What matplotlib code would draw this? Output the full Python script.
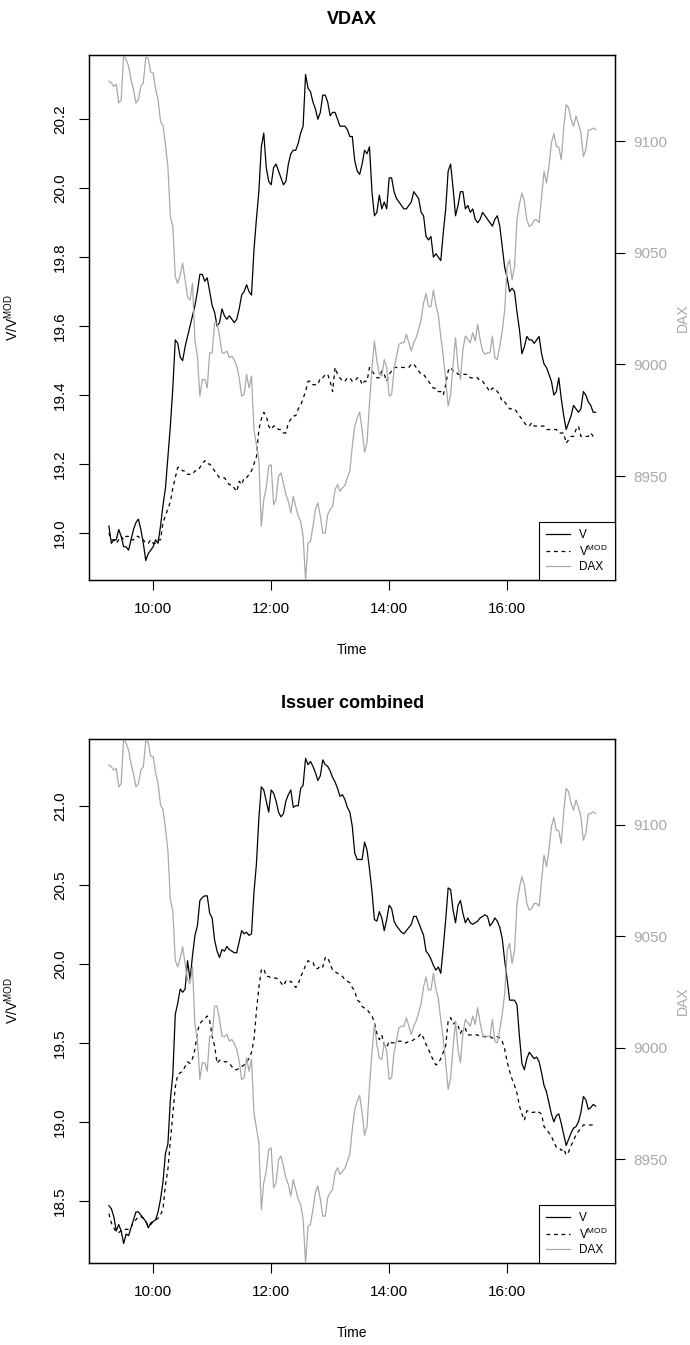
import pandas as pd
import matplotlib.pyplot as plt
import matplotlib.dates as mdates
from matplotlib.lines import Line2D

plt.rcParams['font.family'] = ['Liberation Sans', 'DejaVu Sans']
plt.rcParams['mathtext.fontset'] = 'custom'
plt.rcParams['mathtext.rm'] = 'Liberation Sans'
plt.rcParams['mathtext.it'] = 'Liberation Sans:italic'
plt.rcParams['mathtext.bf'] = 'Liberation Sans:bold'

# ============================================
# DATA
# *_on   : values at 09:15, 09:20, ... 17:30
# *_half : values half way between, 09:17:30 ... 17:27:30
# ============================================
times = pd.date_range("2014-03-03 09:15", "2014-03-03 17:30", freq="150s")

vdax_v_on = [19.02, 18.98, 19.01, 18.96, 18.95, 19.01, 19.04, 18.97, 18.94, 18.96,
             18.97, 19.08, 19.22, 19.42, 19.55, 19.50, 19.57, 19.63, 19.70, 19.75,
             19.74, 19.66, 19.60, 19.65, 19.62, 19.62, 19.62, 19.69, 19.72, 19.69,
             19.91, 20.12, 20.06, 20.01, 20.07, 20.03, 20.02, 20.10, 20.11, 20.16,
             20.33, 20.28, 20.23, 20.22, 20.27, 20.21, 20.22, 20.18, 20.18, 20.15,
             20.08, 20.04, 20.11, 20.12, 19.92, 19.98, 19.96, 20.03, 19.99, 19.96,
             19.94, 19.95, 19.99, 19.97, 19.92, 19.85, 19.80, 19.80, 19.87, 20.05,
             20.00, 19.95, 19.99, 19.95, 19.94, 19.90, 19.93, 19.91, 19.89, 19.92,
             19.83, 19.74, 19.71, 19.64, 19.52, 19.57, 19.56, 19.56, 19.52, 19.48,
             19.44, 19.41, 19.39, 19.30, 19.34, 19.36, 19.36, 19.40, 19.37, 19.35]
vdax_v_half = [18.97, 18.98, 18.99, 18.96, 18.98, 19.03, 19.01, 18.92, 18.95, 18.98,
               19.02, 19.13, 19.31, 19.56, 19.51, 19.54, 19.60, 19.66, 19.75, 19.73,
               19.70, 19.64, 19.61, 19.63, 19.63, 19.61, 19.65, 19.70, 19.70, 19.82,
               19.99, 20.16, 20.02, 20.06, 20.05, 20.01, 20.07, 20.11, 20.13, 20.18,
               20.29, 20.25, 20.20, 20.27, 20.25, 20.22, 20.20, 20.18, 20.17, 20.15,
               20.05, 20.07, 20.10, 19.99, 19.93, 19.94, 19.94, 20.03, 19.97, 19.95,
               19.94, 19.96, 19.98, 19.93, 19.86, 19.86, 19.81, 19.79, 19.94, 20.07,
               19.92, 19.99, 19.94, 19.93, 19.91, 19.91, 19.92, 19.90, 19.91, 19.89,
               19.77, 19.70, 19.70, 19.59, 19.54, 19.56, 19.55, 19.57, 19.49, 19.46,
               19.40, 19.45, 19.34, 19.32, 19.37, 19.35, 19.41, 19.38, 19.35]

vdax_vmod_on = [19.00, 18.98, 18.98, 18.98, 18.99, 18.98, 18.99, 18.98, 18.97, 18.97,
                18.98, 19.03, 19.07, 19.13, 19.19, 19.18, 19.17, 19.17, 19.18, 19.20,
                19.20, 19.19, 19.17, 19.16, 19.15, 19.14, 19.12, 19.14, 19.16, 19.18,
                19.22, 19.33, 19.34, 19.30, 19.31, 19.30, 19.29, 19.33, 19.34, 19.37,
                19.41, 19.44, 19.43, 19.45, 19.46, 19.44, 19.48, 19.45, 19.44, 19.45,
                19.44, 19.45, 19.44, 19.48, 19.46, 19.45, 19.46, 19.46, 19.48, 19.48,
                19.48, 19.48, 19.49, 19.47, 19.46, 19.44, 19.42, 19.41, 19.40, 19.47,
                19.47, 19.46, 19.46, 19.46, 19.45, 19.45, 19.44, 19.42, 19.42, 19.41,
                19.38, 19.37, 19.36, 19.35, 19.33, 19.31, 19.32, 19.31, 19.31, 19.30,
                19.30, 19.30, 19.29, 19.26, 19.28, 19.30, 19.28, 19.28, 19.29, 19.28]
vdax_vmod_half = [18.98, 18.97, 18.99, 18.99, 18.98, 18.99, 18.98, 18.97, 18.98, 18.97,
                  18.98, 19.05, 19.09, 19.16, 19.19, 19.18, 19.17, 19.18, 19.19, 19.21,
                  19.20, 19.18, 19.16, 19.16, 19.14, 19.13, 19.15, 19.16, 19.17, 19.20,
                  19.30, 19.35, 19.31, 19.31, 19.30, 19.29, 19.32, 19.34, 19.36, 19.39,
                  19.44, 19.43, 19.43, 19.45, 19.46, 19.41, 19.46, 19.44, 19.45, 19.44,
                  19.45, 19.43, 19.44, 19.47, 19.45, 19.47, 19.44, 19.47, 19.48, 19.48,
                  19.48, 19.49, 19.48, 19.46, 19.45, 19.43, 19.42, 19.41, 19.43, 19.48,
                  19.47, 19.46, 19.46, 19.45, 19.45, 19.44, 19.43, 19.41, 19.42, 19.40,
                  19.38, 19.36, 19.36, 19.34, 19.32, 19.31, 19.31, 19.31, 19.31, 19.30,
                  19.30, 19.29, 19.29, 19.27, 19.28, 19.31, 19.28, 19.28, 19.28]

issuer_v_on = [18.47, 18.40, 18.35, 18.23, 18.28, 18.38, 18.43, 18.39, 18.33, 18.37,
               18.43, 18.62, 18.86, 19.30, 19.75, 19.82, 20.02, 20.05, 20.24, 20.42,
               20.43, 20.29, 20.08, 20.09, 20.11, 20.08, 20.07, 20.21, 20.20, 20.19,
               20.63, 21.12, 21.03, 21.10, 21.03, 20.93, 21.03, 21.10, 21.00, 21.11,
               21.30, 21.28, 21.21, 21.19, 21.26, 21.22, 21.15, 21.06, 21.04, 20.96,
               20.70, 20.66, 20.77, 20.60, 20.28, 20.33, 20.21, 20.37, 20.27, 20.22,
               20.19, 20.23, 20.30, 20.26, 20.18, 20.06, 19.99, 19.98, 20.10, 20.48,
               20.34, 20.37, 20.32, 20.29, 20.25, 20.27, 20.30, 20.30, 20.26, 20.27,
               20.16, 19.90, 19.77, 19.74, 19.37, 19.40, 19.42, 19.41, 19.31, 19.19,
               19.05, 19.04, 18.99, 18.85, 18.93, 18.97, 19.06, 19.14, 19.09, 19.10]
issuer_v_half = [18.45, 18.31, 18.31, 18.29, 18.33, 18.43, 18.41, 18.37, 18.36, 18.38,
                 18.51, 18.80, 19.14, 19.68, 19.84, 19.84, 19.90, 20.18, 20.40, 20.43,
                 20.32, 20.15, 20.04, 20.08, 20.09, 20.07, 20.14, 20.19, 20.18, 20.45,
                 20.92, 21.10, 20.96, 21.08, 20.96, 20.95, 21.07, 20.99, 21.00, 21.13,
                 21.26, 21.25, 21.16, 21.29, 21.25, 21.18, 21.11, 21.07, 20.99, 20.87,
                 20.66, 20.66, 20.72, 20.46, 20.27, 20.29, 20.28, 20.35, 20.24, 20.20,
                 20.21, 20.25, 20.30, 20.22, 20.08, 20.03, 19.96, 19.94, 20.28, 20.47,
                 20.26, 20.40, 20.26, 20.26, 20.26, 20.29, 20.31, 20.24, 20.29, 20.23,
                 20.02, 19.77, 19.77, 19.54, 19.33, 19.44, 19.40, 19.38, 19.23, 19.12,
                 19.00, 19.05, 18.92, 18.89, 18.96, 19.00, 19.16, 19.08, 19.11]

issuer_vmod_on = [18.42, 18.33, 18.30, 18.32, 18.32, 18.37, 18.40, 18.39, 18.34, 18.37,
                  18.39, 18.45, 18.70, 19.05, 19.30, 19.32, 19.38, 19.40, 19.57, 19.64,
                  19.67, 19.54, 19.37, 19.39, 19.38, 19.35, 19.33, 19.35, 19.38, 19.44,
                  19.70, 19.96, 19.92, 19.91, 19.91, 19.88, 19.89, 19.89, 19.85, 19.92,
                  19.99, 20.01, 19.97, 19.99, 20.04, 20.00, 19.95, 19.93, 19.90, 19.88,
                  19.83, 19.76, 19.72, 19.69, 19.63, 19.52, 19.49, 19.51, 19.50, 19.51,
                  19.50, 19.51, 19.52, 19.54, 19.53, 19.46, 19.39, 19.37, 19.44, 19.64,
                  19.62, 19.61, 19.59, 19.55, 19.55, 19.55, 19.54, 19.54, 19.53, 19.54,
                  19.51, 19.38, 19.27, 19.18, 19.05, 19.07, 19.06, 19.07, 19.05, 18.95,
                  18.91, 18.84, 18.82, 18.79, 18.85, 18.92, 18.96, 18.98, 18.98, 18.98]
issuer_vmod_half = [18.36, 18.30, 18.31, 18.32, 18.33, 18.38, 18.40, 18.37, 18.35, 18.38,
                    18.41, 18.60, 18.88, 19.22, 19.31, 19.35, 19.37, 19.46, 19.62, 19.65,
                    19.64, 19.48, 19.39, 19.38, 19.37, 19.33, 19.34, 19.36, 19.40, 19.52,
                    19.85, 19.97, 19.92, 19.91, 19.90, 19.86, 19.88, 19.87, 19.87, 19.95,
                    20.02, 20.01, 19.97, 19.98, 20.04, 19.96, 19.94, 19.92, 19.89, 19.85,
                    19.77, 19.73, 19.71, 19.67, 19.56, 19.55, 19.47, 19.50, 19.51, 19.51,
                    19.50, 19.51, 19.53, 19.56, 19.49, 19.42, 19.36, 19.40, 19.48, 19.66,
                    19.63, 19.56, 19.59, 19.55, 19.55, 19.54, 19.54, 19.54, 19.53, 19.53,
                    19.46, 19.32, 19.23, 19.10, 19.01, 19.07, 19.06, 19.06, 18.97, 18.93,
                    18.87, 18.84, 18.83, 18.81, 18.88, 18.94, 18.98, 18.98, 18.98]

dax_on = [9126.8, 9124.5, 9117.0, 9138.5, 9133.5, 9123.0, 9118.5, 9126.0, 9137.0, 9130.5,
          9118.5, 9106.9, 9088.6, 9061.7, 9036.3, 9045.3, 9030.3, 9036.3, 9003.7, 8993.3,
          8989.5, 9005.2, 9018.7, 9005.2, 9006.0, 9003.7, 8999.3, 8985.8, 8995.5, 8994.8,
          8964.1, 8927.5, 8944.7, 8955.1, 8939.5, 8951.4, 8941.7, 8933.5, 8936.5, 8929.8,
          8903.5, 8920.8, 8935.0, 8932.0, 8924.5, 8935.0, 8943.9, 8943.2, 8945.9, 8952.2,
          8972.3, 8978.6, 8960.7, 8982.8, 9010.5, 8995.5, 9002.2, 8985.8, 8997.8, 9009.0,
          9009.7, 9009.7, 9009.7, 9015.7, 9027.4, 9025.9, 9033.3, 9022.1, 9003.7, 8981.3,
          9000.0, 8999.3, 9006.7, 9011.2, 9014.2, 9018.0, 9006.0, 9005.2, 9012.7, 9002.2,
          9015.0, 9043.8, 9037.8, 9064.7, 9076.7, 9064.7, 9062.5, 9064.7, 9075.2, 9081.2,
          9099.1, 9097.6, 9091.6, 9116.3, 9109.6, 9111.1, 9103.6, 9096.1, 9105.1, 9105.1]
dax_half = [9126.0, 9125.3, 9118.5, 9136.5, 9127.5, 9117.0, 9124.5, 9137.5, 9130.8, 9123.3,
            9108.8, 9098.4, 9066.2, 9039.3, 9040.1, 9037.8, 9028.8, 9010.5, 8985.8, 8993.3,
            9005.2, 9018.7, 9012.7, 9005.0, 9003.0, 9002.0, 8994.0, 8986.5, 8989.5, 8970.8,
            8957.4, 8939.5, 8954.4, 8937.2, 8949.9, 8946.9, 8938.7, 8940.9, 8932.0, 8923.0,
            8920.0, 8927.5, 8938.0, 8924.5, 8932.8, 8936.5, 8946.2, 8944.7, 8949.2, 8963.4,
            8976.1, 8970.8, 8964.9, 8997.8, 9001.5, 8994.8, 8998.5, 8986.5, 9003.4, 9009.7,
            9013.5, 9006.0, 9012.0, 9019.9, 9031.8, 9025.9, 9026.6, 9012.4, 8993.3, 8986.5,
            9012.0, 8993.3, 9012.7, 9009.7, 9010.5, 9011.2, 9004.5, 9005.2, 9003.0, 9008.2,
            9024.4, 9046.8, 9043.8, 9071.9, 9072.9, 9061.7, 9064.7, 9063.5, 9086.4, 9088.6,
            9103.3, 9097.3, 9105.8, 9114.8, 9106.6, 9107.8, 9093.1, 9104.8, 9105.8]

vdax_ticks = [19.0, 19.2, 19.4, 19.6, 19.8, 20.0, 20.2]
issuer_ticks = [18.5, 19.0, 19.5, 20.0, 20.5, 21.0]
dax_ticks = [8950, 9000, 9050, 9100]


def merge(on, half):
    # put the half-step readings between the on-step readings
    out = []
    for a, b in zip(on, half):
        out += [a, b]
    out.append(on[-1])
    return out


vdax_v = merge(vdax_v_on, vdax_v_half)
vdax_vmod = merge(vdax_vmod_on, vdax_vmod_half)
issuer_v = merge(issuer_v_on, issuer_v_half)
issuer_vmod = merge(issuer_vmod_on, issuer_vmod_half)
dax = merge(dax_on, dax_half)

GREY = '#a9a9a9'
DASH = (0, (3, 3))
LW = 0.9

# ============================================
# PLOT
# ============================================
fig = plt.figure(figsize=(6.9, 13.45), dpi=100)


def draw_panel(rect, title, v, vmod, left_ticks):
    ax = fig.add_axes(rect)
    ax.plot(times, v, color='black', lw=LW)
    ax.plot(times, vmod, color='black', lw=LW, ls=DASH)

    # R style 4% padding
    span = times[-1] - times[0]
    ax.set_xlim(times[0] - 0.04 * span, times[-1] + 0.04 * span)
    lo = min(min(v), min(vmod))
    hi = max(max(v), max(vmod))
    ax.set_ylim(lo - 0.04 * (hi - lo), hi + 0.04 * (hi - lo))

    ax.set_yticks(left_ticks)
    ax.set_yticklabels(['%.1f' % t for t in left_ticks], rotation=90, va='center')
    ax.tick_params(axis='y', length=7, width=0.8, pad=9, labelsize=11)
    ax.xaxis.set_major_locator(mdates.HourLocator(byhour=[10, 12, 14, 16]))
    ax.xaxis.set_major_formatter(mdates.DateFormatter('%H:%M'))
    ax.tick_params(axis='x', length=7, width=0.8, pad=9, labelsize=11)
    for s in ax.spines.values():
        s.set_linewidth(1.0)

    ax.set_title(title, fontsize=13, fontweight='bold', pad=22)
    ax.text(0.5, -0.133, 'Time', transform=ax.transAxes, ha='center', va='center', fontsize=10)
    ax.text(-0.148, 0.5, 'V/V$^{\\mathrm{MOD}}$', transform=ax.transAxes, rotation=90,
            ha='center', va='center', fontsize=10)

    # DAX on the right axis
    ax2 = ax.twinx()
    ax2.plot(times, dax, color=GREY, lw=LW)
    ax2.set_ylim(min(dax), max(dax))
    ax2.set_yticks(dax_ticks)
    ax2.tick_params(axis='y', length=7, width=0.8, pad=6, labelsize=11, labelcolor=GREY)
    ax2.text(1.128, 0.5, 'DAX', transform=ax.transAxes, rotation=90,
             ha='center', va='center', fontsize=10, color=GREY)

    handles = [Line2D([], [], color='black', lw=LW),
               Line2D([], [], color='black', lw=LW, ls=DASH),
               Line2D([], [], color=GREY, lw=LW)]
    leg = ax2.legend(handles, ['V', 'V$^{\\mathrm{MOD}}$', 'DAX'], loc='lower right',
                     borderaxespad=0, fancybox=False, edgecolor='black', framealpha=1,
                     fontsize=8.5, handlelength=2.0, handletextpad=0.8,
                     borderpad=0.6, labelspacing=0.2)
    leg.get_frame().set_linewidth(0.8)


draw_panel([0.1296, 0.5688, 0.7619, 0.3903], 'VDAX', vdax_v, vdax_vmod, vdax_ticks)
draw_panel([0.1296, 0.0610, 0.7619, 0.3896], 'Issuer combined', issuer_v, issuer_vmod, issuer_ticks)

fig.savefig('out.png', dpi=100)
